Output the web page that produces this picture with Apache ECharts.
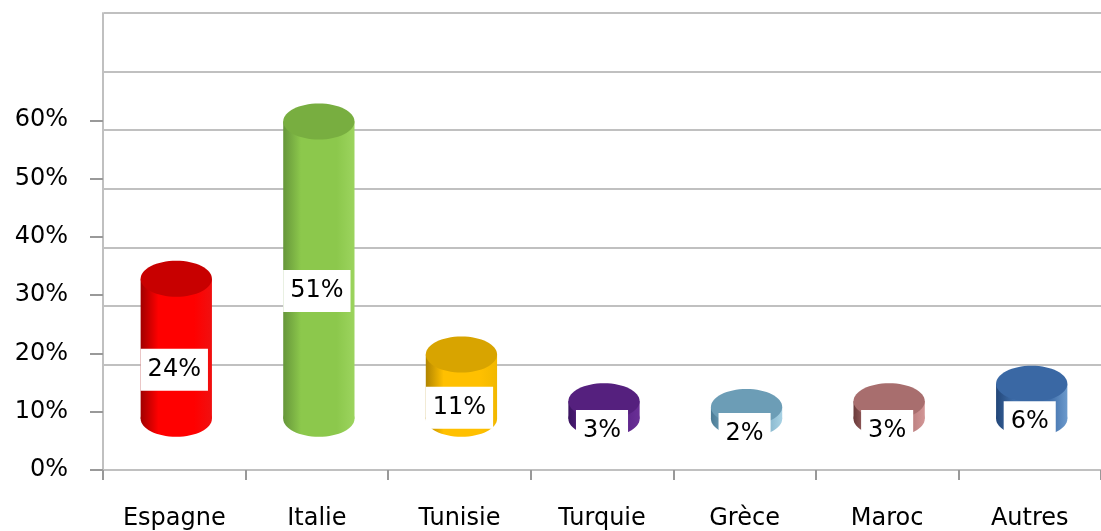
<!DOCTYPE html>
<html>
<head>
<meta charset="utf-8">
<script src="https://cdn.jsdelivr.net/npm/echarts@6/dist/echarts.min.js"></script>
<style>
    html, body { margin: 0; padding: 0; background: #fff; }
    #chart { width: 1101px; height: 531px; }
</style>
</head>
<body>
<div id="chart"></div>
<script>
    //data
    var categories = ['Espagne', 'Italie', 'Tunisie', 'Turquie', 'Grèce', 'Maroc', 'Autres'];
    var values = [24, 51, 11, 3, 2, 3, 6];
    var yTicks = [0, 10, 20, 30, 40, 50, 60];

    //colors: [left edge, middle, right edge] of the side, then the top
    var sideColors = [
        ['#a00000', '#ff0000', '#f01010'],
        ['#66963a', '#8cc84c', '#9cd45e'],
        ['#b08400', '#ffc000', '#f2b800'],
        ['#3a1460', '#5a2288', '#6a3096'],
        ['#4a7a94', '#7eaec6', '#a8d2e4'],
        ['#6a3a3a', '#b47878', '#d29696'],
        ['#224678', '#3f6eaa', '#6c9acc']
    ];
    var topColors = ['#c80000', '#78ae40', '#d8a400', '#55207e', '#6c9db6', '#a86e6e', '#3a68a4'];

    //3D floor lift of the cylinders (in axis units) and ellipse half height
    var floorLift = 8.8;
    var capRy = 18;

    var font = '"DejaVu Sans", Verdana, sans-serif';
    var gridColor = '#c0c0c0';

    var myChart = echarts.init(document.getElementById('chart'));

    function renderCylinder(params, api) {
        var i = api.value(0);
        var v = api.value(1);
        var base = api.coord([i, floorLift]);
        var top = api.coord([i, floorLift + v]);
        var w = api.size([1, 0])[0] * 0.5;
        var cx = base[0] + 2;
        var rx = w / 2;
        var c = sideColors[i];
        var side = new echarts.graphic.LinearGradient(0, 0, 1, 0, [
            {offset: 0, color: c[0]},
            {offset: 0.25, color: c[1]},
            {offset: 0.75, color: c[1]},
            {offset: 1, color: c[2]}
        ]);
        var mid = api.coord([i, floorLift + v / 2]);
        return {
            type: 'group',
            children: [
                {type: 'ellipse', shape: {cx: cx, cy: base[1], rx: rx, ry: capRy}, style: {fill: side}},
                {type: 'rect', shape: {x: cx - rx, y: top[1], width: w, height: base[1] - top[1]}, style: {fill: side}},
                {type: 'ellipse', shape: {cx: cx, cy: top[1], rx: rx, ry: capRy}, style: {fill: topColors[i]}},
                {
                    type: 'text',
                    x: cx - 2,
                    y: mid[1] + capRy + 3,
                    style: {
                        text: v + '%',
                        fill: '#000',
                        font: '24px ' + font,
                        align: 'center',
                        verticalAlign: 'middle',
                        backgroundColor: '#fff',
                        padding: [9, 7]
                    }
                }
            ]
        };
    }

    var option = {
        animation: false,
        backgroundColor: '#fff',
        grid: [
            // front: axis lines, ticks and labels
            {left: 103, right: -7, top: 13, bottom: 61},
            // back wall: gridlines shifted up by the depth
            {left: 104, right: -7, top: 13, bottom: 108}
        ],
        xAxis: [{
            type: 'category',
            gridIndex: 0,
            data: categories,
            axisLine: {lineStyle: {color: gridColor, width: 2}},
            axisTick: {show: true, length: 10, lineStyle: {color: '#999', width: 2}},
            axisLabel: {color: '#000', fontSize: 24, fontFamily: font, margin: 37, interval: 0}
        }, {
            type: 'category',
            gridIndex: 1,
            data: categories,
            show: false
        }],
        yAxis: [{
            type: 'value',
            gridIndex: 0,
            min: 0,
            max: 78.4,
            interval: 10,
            axisLine: {show: true, lineStyle: {color: gridColor, width: 2}},
            axisTick: {show: true, length: 13, customValues: yTicks, lineStyle: {color: '#999', width: 2}},
            axisLabel: {
                customValues: yTicks,
                color: '#000',
                fontSize: 24,
                fontFamily: font,
                margin: 35,
                formatter: '{value}%'
            },
            splitLine: {show: false}
        }, {
            type: 'value',
            gridIndex: 1,
            min: 0,
            max: 70,
            interval: 10,
            axisLine: {show: false},
            axisTick: {show: false},
            axisLabel: {show: false},
            splitLine: {show: true, showMinLine: false, lineStyle: {color: gridColor, width: 2}}
        }],
        series: [{
            type: 'custom',
            xAxisIndex: 0,
            yAxisIndex: 0,
            renderItem: renderCylinder,
            encode: {x: 0, y: 1},
            data: values.map(function (v, i) {
                return [i, v];
            }),
            z: 10
        }]
    };

    myChart.setOption(option);
</script>
</body>
</html>
